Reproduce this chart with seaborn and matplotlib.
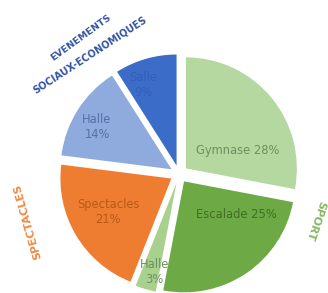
import matplotlib
matplotlib.use("Agg")
import matplotlib.pyplot as plt
import seaborn as sns

sns.set_theme(style="white")
plt.rcParams['font.family'] = ['DejaVu Sans']

# Data
categories = ["Gymnase", "Escalade", "Halle", "Spectacles", "Halle", "Salle"]
values = [28, 25, 3, 21, 14, 9]
groups = ["SPORT", "SPECTACLES", "EVENEMENTS", "SOCIAUX-ECONOMIQUES"]

# Styles
slice_colors = ["#B4D8A0", "#6DAA45", "#A9D18E", "#EE7D31", "#8FAADC", "#3A6CC8"]
label_colors = ["#6E8F5E", "#3F6E25", "#6E8F5E", "#B85A14", "#5570A8", "#3260B8"]
label_texts = [f"{c} {v}%" if i < 2 else f"{c}\n{v}%" for i, (c, v) in enumerate(zip(categories, values))]
label_pos = [(0.53, 0.216), (0.514, -0.369), (-0.225, -0.883), (-0.639, -0.342), (-0.739, 0.424), (-0.324, 0.802)]

fig = plt.figure(figsize=(3.28, 2.93), dpi=100)
ax = fig.add_axes([0, 0, 1, 1])
ax.pie(values, colors=slice_colors, startangle=90, counterclock=False,
       explode=[0.08] * len(values), radius=1.0,
       wedgeprops=dict(linewidth=0))

for t, (x, y), c in zip(label_texts, label_pos, label_colors):
    ax.text(x, y, t, ha="center", va="center", fontsize=8.3, color=c, linespacing=1.25)

# Group labels
ax.text(-0.88, 1.23, groups[2], rotation=36, ha="center", va="center",
        fontsize=6.8, fontweight="bold", color="#3355A5")
ax.text(-0.80, 1.07, groups[3], rotation=33, ha="center", va="center",
        fontsize=7.0, fontweight="bold", color="#3355A5")
ax.text(-1.36, -0.43, groups[1], rotation=106, ha="center", va="center",
        fontsize=8, fontweight="bold", color="#EE8A45")
ax.text(1.23, -0.42, groups[0], rotation=-109, ha="center", va="center",
        fontsize=8, fontweight="bold", color="#86B862")

ax.set_xlim(-1.613, 1.342)
ax.set_ylim(-1.072, 1.568)
ax.set_aspect("equal")
ax.axis("off")
fig.savefig("out.png", dpi=100)
